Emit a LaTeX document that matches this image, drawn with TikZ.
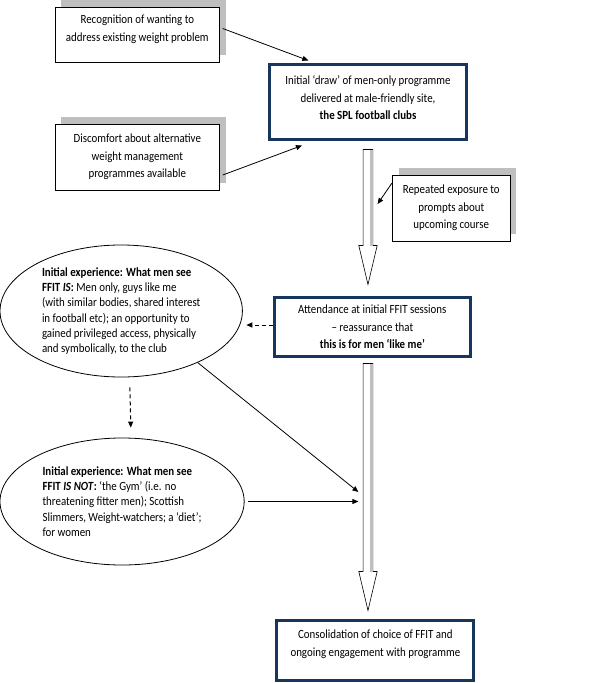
\documentclass[tikz,border=0pt]{standalone}
\usepackage{fontspec}
\setmainfont{Carlito}[FakeStretch=0.872]
\usetikzlibrary{shapes.geometric,arrows.meta,shadows,calc}
\definecolor{navyline}{RGB}{23,54,93}
\definecolor{shadegray}{RGB}{191,191,191}

\begin{document}
\begin{tikzpicture}[x=0.872pt, y=-1pt,
  >={Triangle[length=6pt, width=5pt]},
  every node/.style={font=\fontsize{12.5}{17.7}\selectfont, inner sep=0pt},
  cuebox/.style={draw=black, line width=0.8pt, fill=white, align=center,
    drop shadow={shadow xshift=6.1pt, shadow yshift=7pt, fill=shadegray, opacity=1}},
  keybox/.style={draw=navyline, line width=3pt, fill=white, align=center},
  seen/.style={ellipse, draw=black, line width=0.8pt, align=left,
    font=\fontsize{12.5}{15.3}\selectfont},
  link/.style={->, line width=0.8pt},
  maybe/.style={->, line width=1pt, dash pattern=on 4pt off 3pt},
  bigarrow/.style={draw=black, line width=0.6pt, fill=white},
  shaftshade/.style={draw=shadegray, line width=2.7pt},
  ]
  \useasboundingbox (0,0) rectangle (688,683);

  % triggers
  \node[cuebox, minimum width=164.8pt, minimum height=55pt] (recog) at (157.5,34.5)
    {Recognition of wanting to\\address existing weight problem\\[-5pt]\mbox{}};
  \node[cuebox, minimum width=164.8pt, minimum height=66pt] (discomf) at (157.5,157)
    {Discomfort about alternative\\weight management\\programmes available};
  \node[cuebox, minimum width=117.7pt, minimum height=66pt] (expos) at (517.5,208)
    {Repeated exposure to\\prompts about\\upcoming course};

  % main steps
  \node[keybox, minimum width=196.2pt, minimum height=75pt] (initdraw) at (422,102)
    {Initial ‘draw’ of men-only programme\\delivered at male-friendly site,\\\textbf{the SPL football clubs}\\[-9pt]\mbox{}};
  \node[keybox, minimum width=196.2pt, minimum height=59pt] (attend) at (427,327)
    {Attendance at initial FFIT sessions\\– reassurance that\\\textbf{this is for men ‘like me’}};
  \node[keybox, minimum width=197.1pt, minimum height=60pt] (consol) at (430.5,650.5)
    {Consolidation of choice of FFIT and\\ongoing engagement with programme\\[-3pt]\mbox{}};

  % what men see
  \node[seen, minimum width=242.4pt, minimum height=132pt] (is) at (139,311)
    {\textbf{Initial experience: What men see}\\
     \textbf{FFIT \textit{IS}:} Men only, guys like me\\
     (with similar bodies, shared interest\\
     in football etc); an opportunity to\\
     gained privileged access, physically\\
     and symbolically, to the club};
  \node[seen, minimum width=244.2pt, minimum height=127pt] (isnot) at (140,501.5)
    {\textbf{Initial experience: What men see}\\
     \textbf{FFIT \textit{IS NOT}:} ‘the Gym’ (i.e. no\\
     threatening fitter men); Scottish\\
     Slimmers, Weight-watchers; a ‘diet’;\\
     for women};

  % block arrows
  \draw[bigarrow] let \p0=(initdraw.south), \p1=([yshift=-8.5pt]initdraw.south), \p2=([yshift=11.5pt]attend.north) in
    (\x0-4.8pt,\y1) -- (\x0+4.8pt,\y1) -- (\x0+4.8pt,\y2+39pt) -- (\x0+9.2pt,\y2+39pt)
    -- (\x0,\y2) -- (\x0-9.2pt,\y2+39pt) -- (\x0-4.8pt,\y2+39pt) -- cycle;
  \draw[shaftshade] let \p0=(initdraw.south), \p1=([yshift=-8.5pt]initdraw.south), \p2=([yshift=11.5pt]attend.north) in
    (\x0+3.75pt,\y1) -- (\x0+3.75pt,\y2+39pt);
  \draw[bigarrow] let \p0=(initdraw.south), \p1=([yshift=-5.5pt]attend.south), \p2=([yshift=8.5pt]consol.north) in
    (\x0-4.8pt,\y1) -- (\x0+4.8pt,\y1) -- (\x0+4.8pt,\y2+39pt) -- (\x0+9.2pt,\y2+39pt)
    -- (\x0,\y2) -- (\x0-9.2pt,\y2+39pt) -- (\x0-4.8pt,\y2+39pt) -- cycle;
  \draw[shaftshade] let \p0=(initdraw.south), \p1=([yshift=-5.5pt]attend.south), \p2=([yshift=8.5pt]consol.north) in
    (\x0+3.75pt,\y1) -- (\x0+3.75pt,\y2+39pt);

  % connectors
  \coordinate (prompt) at (433,204);
  \coordinate (merge) at (411,492);
  \draw[link] ([xshift=2.6pt,yshift=6pt]recog.east) -- ([xshift=40pt,yshift=2.5pt]initdraw.north west);
  \draw[link] ([xshift=2.6pt,yshift=-18pt]discomf.east) -- ([xshift=33.6pt,yshift=-4.5pt]initdraw.south west);
  \draw[link] ([yshift=25pt]expos.west) -- (prompt);
  \draw[maybe] ([yshift=2pt]attend.west) -- ([xshift=3.5pt,yshift=2pt]attend.west -| is.east);
  \draw[maybe] ([xshift=8.7pt,yshift=-10pt]is.south) -- ([xshift=8.7pt,yshift=10pt]isnot.north);
  \draw[link] (is.-34) -- (merge);
  \draw[link] ([xshift=3.5pt]isnot.east) -- (isnot.east -| merge);
\end{tikzpicture}
\end{document}
